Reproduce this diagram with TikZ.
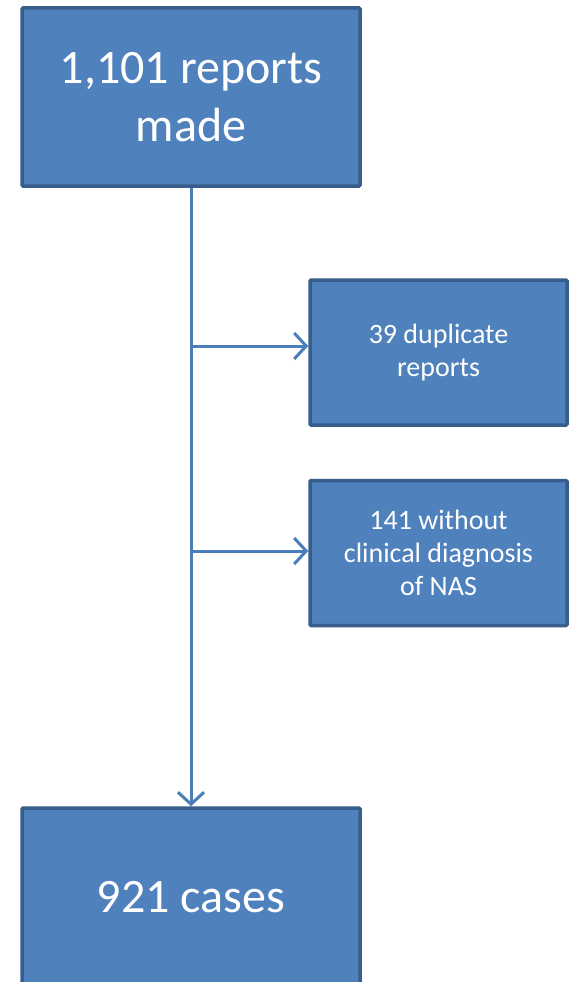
\documentclass[tikz,border=0pt]{standalone}
\usepackage{fontspec}
\setmainfont{Carlito}
\usepackage{xcolor}
\usetikzlibrary{arrows.meta,positioning}
\definecolor{boxfill}{HTML}{4F81BD}
\definecolor{boxline}{HTML}{385D8A}
\definecolor{linkline}{HTML}{4A7EBB}
\tikzset{
  flowbox/.style={draw=boxline,fill=boxfill,line width=3.5pt,rounded corners=1pt,
    text=white,align=center,inner sep=0pt},
  bigbox/.style={flowbox,minimum width=338pt,minimum height=178pt,
    font=\fontsize{48}{58}\selectfont},
  sidebox/.style={flowbox,minimum width=257pt,minimum height=145pt,
    font=\fontsize{28}{33}\selectfont},
  link/.style={draw=linkline,line width=3pt,-{Straight Barb[length=12pt,width=26pt,line width=3pt]}}
}
\begin{document}
\begin{tikzpicture}[x=1pt,y=-1pt]
		% Page frame
		\useasboundingbox (0,0) rectangle (569,982);
		\clip (0,0) rectangle (569,982);
		
		% Draw boxes
		\node[bigbox] (reports) at (191,97) {1,101 reports\\made};
		\node[sidebox] (dupes) at (438.5,352.5) {39 duplicate\\reports};
		\node[sidebox] (nodiag) at (438.5,553) {141 without\\clinical diagnosis\\of NAS};
		\node[bigbox] (cases) at (191,897) {921 cases};
		
		% Branch points on the main line
		\coordinate (split1) at (reports.south |- 0,346);
		\coordinate (split2) at (reports.south |- 0,551);
		
		% Draw connectors
		\draw[link] (reports.south) -- (cases.north);
		\draw[link] (split1) -- (split1 -| dupes.west);
		\draw[link] (split2) -- (split2 -| nodiag.west);
	\end{tikzpicture}
\end{document}
